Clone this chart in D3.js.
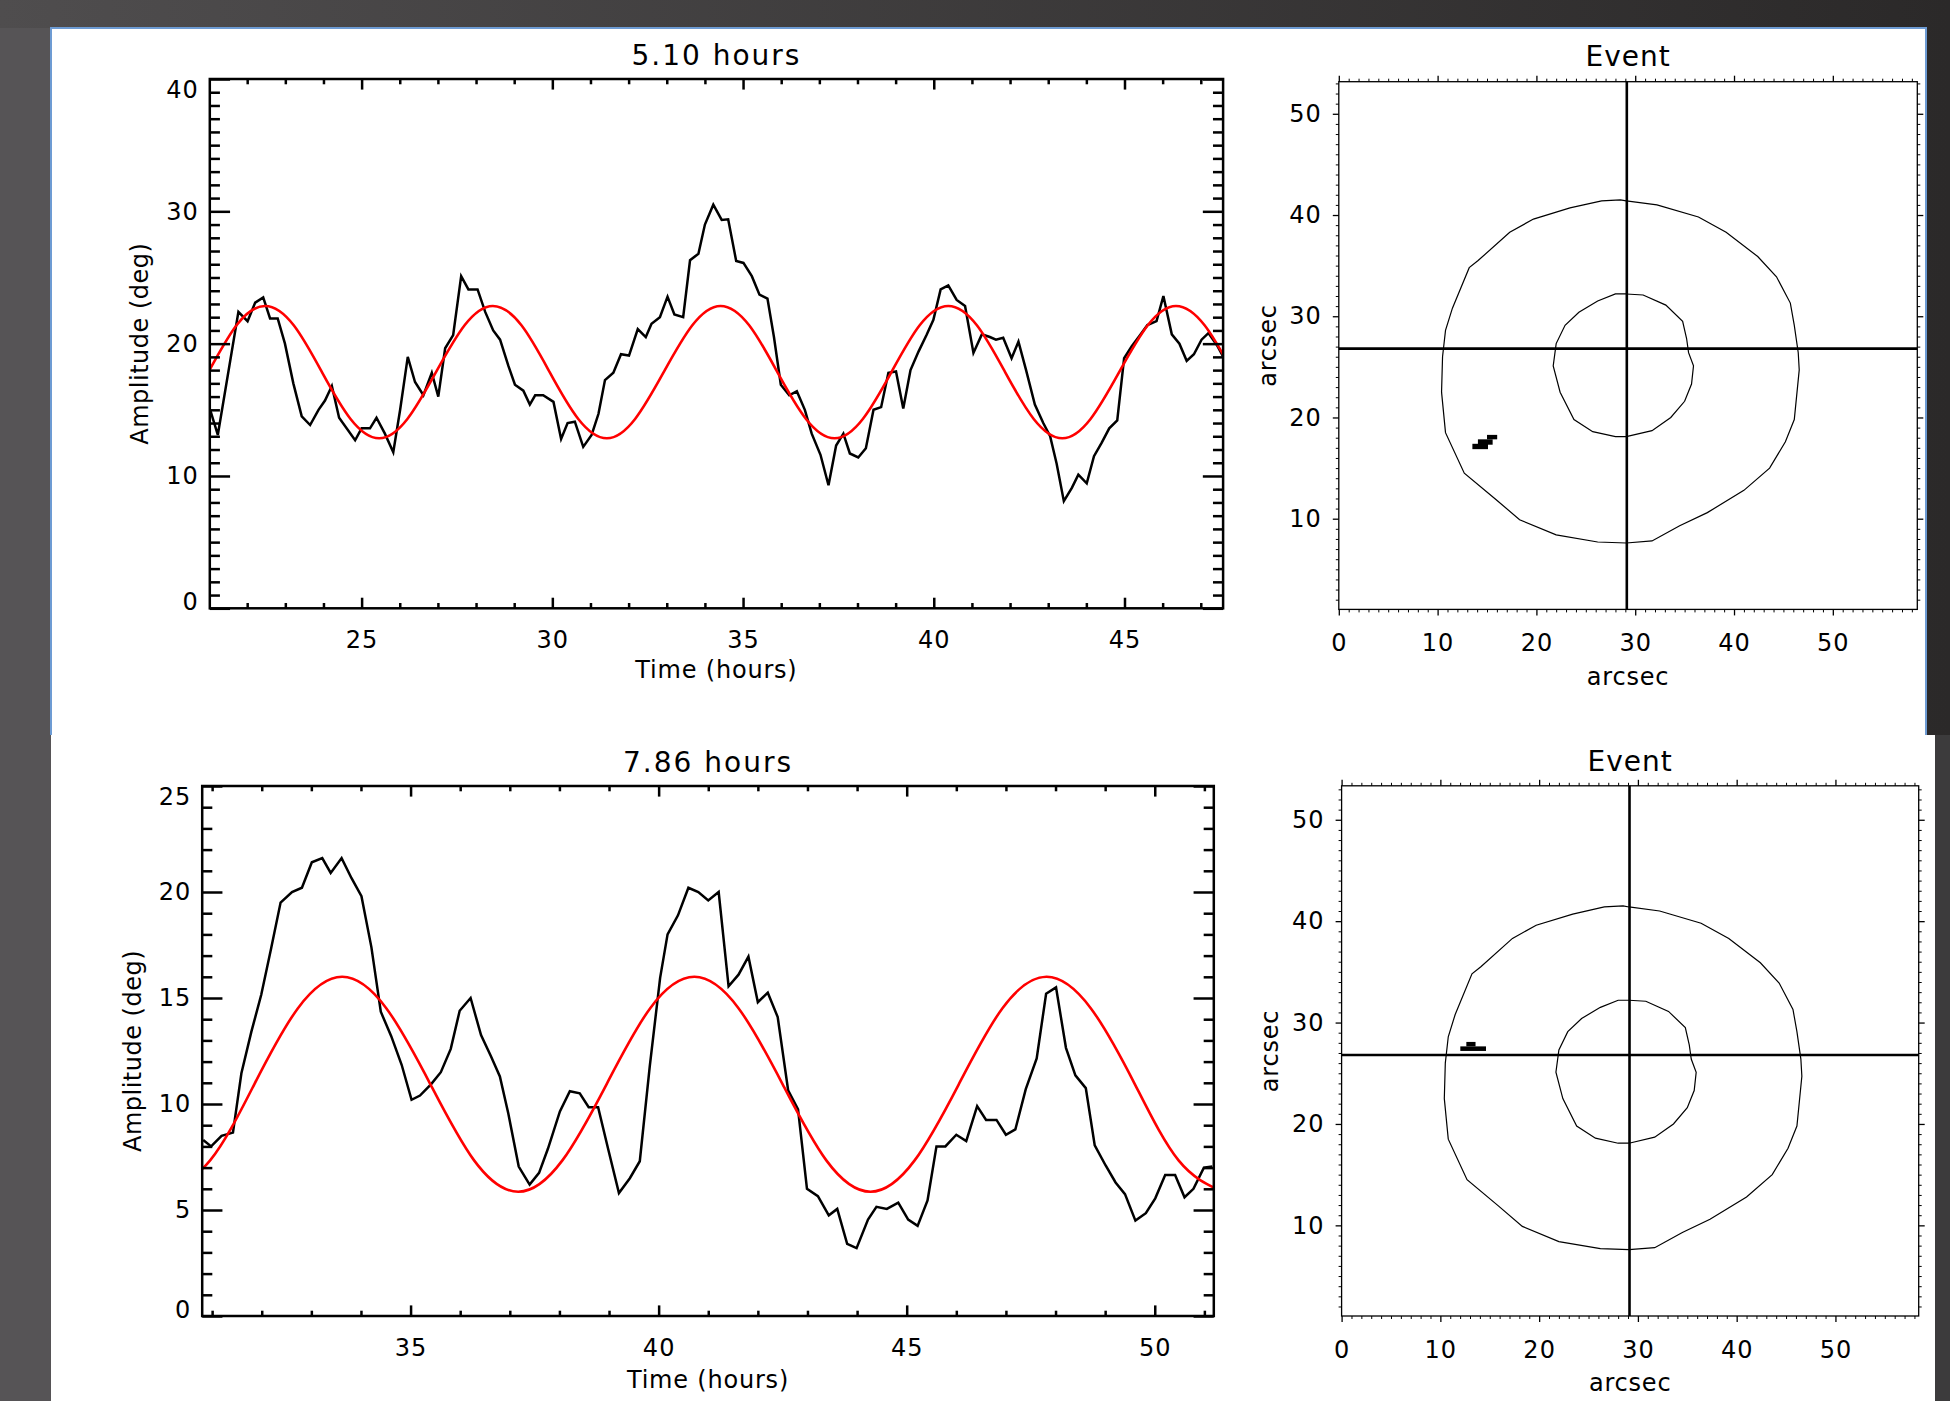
<!DOCTYPE html>
<html><head><meta charset="utf-8">
<script src="https://cdn.jsdelivr.net/npm/d3@7"></script>
<style>
body{margin:0;background:#3a3838;}
svg text{font-family:"DejaVu Sans",sans-serif;fill:#000;}
</style></head>
<body><svg id="c" width="1950" height="1401"></svg>
<script>
// ---------------- DATA ----------------
const topTitle = "5.10 hours";
const botTitle = "7.86 hours";
const tsXLabel = "Time (hours)";
const tsYLabel = "Amplitude (deg)";
const evTitle = "Event";
const evLabel = "arcsec";

// observed amplitude, top panel [time, amplitude]
const topSeries = [[21.03,15.0],[21.23,13.1],[21.77,22.4],[22.01,21.7],[22.21,23.1],[22.42,23.5],[22.60,21.9],[22.80,21.9],[22.99,20.0],[23.21,17.0],[23.43,14.5],[23.65,13.85],[23.87,15.0],[24.04,15.7],[24.22,16.8],[24.41,14.4],[24.83,12.7],[25.00,13.6],[25.22,13.6],[25.39,14.4],[25.61,13.2],[25.83,11.8],[26.01,15.0],[26.21,19.0],[26.40,17.1],[26.62,16.1],[26.84,17.8],[27.01,16.0],[27.19,19.65],[27.40,20.65],[27.61,25.1],[27.80,24.1],[28.04,24.1],[28.24,22.4],[28.45,21.0],[28.63,20.3],[28.85,18.3],[29.02,16.9],[29.24,16.45],[29.41,15.4],[29.55,16.1],[29.76,16.1],[30.03,15.6],[30.23,12.8],[30.40,14.0],[30.59,14.1],[30.81,12.2],[31.03,13.1],[31.21,14.7],[31.38,17.25],[31.60,17.8],[31.80,19.2],[32.01,19.1],[32.24,21.1],[32.45,20.5],[32.60,21.5],[32.82,22.0],[33.02,23.55],[33.20,22.2],[33.43,22.0],[33.61,26.3],[33.83,26.8],[34.00,29.0],[34.22,30.5],[34.44,29.35],[34.61,29.4],[34.82,26.25],[35.01,26.1],[35.23,25.1],[35.43,23.7],[35.64,23.4],[35.81,20.5],[35.99,16.9],[36.21,16.1],[36.41,16.4],[36.62,15.0],[36.80,13.2],[37.03,11.6],[37.24,9.3],[37.44,12.3],[37.63,13.2],[37.80,11.7],[38.02,11.4],[38.22,12.1],[38.42,15.0],[38.62,15.2],[38.81,17.8],[39.01,17.9],[39.20,15.1],[39.39,18.0],[39.60,19.4],[39.81,20.65],[39.99,21.8],[40.18,24.1],[40.38,24.4],[40.60,23.3],[40.82,22.85],[41.04,19.3],[41.26,20.7],[41.47,20.5],[41.63,20.3],[41.82,20.45],[42.04,18.9],[42.22,20.15],[42.42,18.0],[42.65,15.4],[42.87,14.0],[43.05,13.0],[43.22,10.95],[43.41,8.1],[43.62,9.1],[43.79,10.1],[44.01,9.45],[44.20,11.5],[44.40,12.5],[44.60,13.6],[44.81,14.2],[44.99,18.9],[45.19,19.8],[45.41,20.65],[45.60,21.4],[45.84,21.7],[46.02,23.6],[46.24,20.7],[46.44,20.0],[46.63,18.7],[46.82,19.2],[47.02,20.3],[47.20,20.8],[47.42,19.9],[47.59,19.0]];

// fitted curve, top panel
const topFit = [[20.24,14.31],[20.98,17.85],[21.72,21.39],[22.47,22.85],[23.22,21.39],[23.96,17.85],[24.71,14.31],[25.46,12.85],[26.20,14.31],[26.95,17.85],[27.70,21.39],[28.44,22.85],[29.19,21.39],[29.93,17.85],[30.68,14.31],[31.43,12.85],[32.17,14.31],[32.92,17.85],[33.67,21.39],[34.41,22.85],[35.16,21.39],[35.90,17.85],[36.65,14.31],[37.40,12.85],[38.14,14.31],[38.89,17.85],[39.63,21.39],[40.38,22.85],[41.13,21.39],[41.87,17.85],[42.62,14.31],[43.37,12.85],[44.11,14.31],[44.86,17.85],[45.61,21.39],[46.35,22.85],[47.10,21.39],[47.84,17.85]];

// observed amplitude, bottom panel
const botSeries = [[30.82,8.3],[30.98,8.0],[31.19,8.5],[31.42,8.65],[31.59,11.45],[31.79,13.4],[31.99,15.15],[32.19,17.35],[32.38,19.5],[32.61,20.0],[32.81,20.2],[33.01,21.4],[33.22,21.6],[33.39,20.9],[33.61,21.6],[33.81,20.65],[34.01,19.8],[34.21,17.4],[34.40,14.35],[34.61,13.2],[34.82,11.85],[35.02,10.2],[35.19,10.4],[35.42,10.95],[35.61,11.5],[35.81,12.6],[35.99,14.4],[36.21,15.0],[36.42,13.25],[36.62,12.25],[36.80,11.3],[36.97,9.55],[37.18,7.05],[37.40,6.2],[37.59,6.75],[37.77,7.9],[38.01,9.65],[38.21,10.6],[38.41,10.5],[38.59,9.85],[38.78,9.85],[38.98,7.9],[39.20,5.8],[39.42,6.5],[39.62,7.3],[39.82,11.75],[40.03,15.95],[40.18,18.0],[40.39,18.9],[40.60,20.2],[40.80,20.0],[41.00,19.6],[41.21,20.0],[41.41,15.55],[41.61,16.1],[41.81,16.95],[42.00,14.8],[42.20,15.25],[42.40,14.1],[42.61,10.65],[42.81,9.75],[42.99,6.0],[43.21,5.65],[43.43,4.75],[43.60,5.05],[43.80,3.4],[43.99,3.2],[44.22,4.55],[44.39,5.15],[44.60,5.05],[44.83,5.35],[45.03,4.55],[45.22,4.25],[45.42,5.45],[45.60,8.0],[45.78,8.0],[46.00,8.55],[46.20,8.25],[46.42,9.9],[46.60,9.25],[46.81,9.25],[47.00,8.55],[47.19,8.8],[47.40,10.7],[47.62,12.15],[47.81,15.2],[48.01,15.5],[48.21,12.65],[48.40,11.35],[48.61,10.75],[48.79,8.05],[49.01,7.1],[49.21,6.3],[49.40,5.75],[49.61,4.5],[49.82,4.85],[50.01,5.55],[50.21,6.65],[50.41,6.65],[50.60,5.6],[50.78,6.0],[50.99,7.0],[51.16,7.05]];

// fitted curve, bottom panel
const botFit = [[30.07,5.86],[30.96,7.34],[31.85,10.93],[32.73,14.52],[33.62,16.0],[34.51,14.52],[35.40,10.93],[36.28,7.34],[37.17,5.86],[38.06,7.34],[38.95,10.93],[39.83,14.52],[40.72,16.0],[41.61,14.52],[42.50,10.93],[43.38,7.34],[44.27,5.86],[45.16,7.34],[46.05,10.93],[46.93,14.52],[47.82,16.0],[48.71,14.52],[49.60,10.93],[50.48,7.34],[51.37,5.86]];

// contours of the event map (arcsec)
const outerContour = [[29.1,41.4],[32.2,41.0],[36.4,39.8],[39.2,38.3],[42.4,35.9],[44.3,33.9],[45.7,31.3],[46.1,29.1],[46.5,26.4],[46.6,24.7],[46.1,19.8],[45.2,17.6],[43.6,15.0],[41.0,12.8],[37.3,10.6],[34.5,9.3],[31.7,7.8],[29.1,7.6],[26.2,7.7],[22.0,8.4],[18.3,9.9],[15.9,11.9],[12.7,14.5],[10.8,18.5],[10.4,22.5],[10.5,26.0],[10.8,28.6],[11.5,30.8],[13.2,34.8],[14.1,35.5],[17.3,38.3],[19.7,39.6],[23.4,40.7],[26.6,41.4],[28.5,41.5]];
const innerContour = [[29.1,32.2],[30.8,32.1],[33.1,31.1],[34.8,29.5],[35.2,27.8],[35.4,26.4],[35.9,25.1],[35.7,23.3],[35.0,21.6],[33.6,20.0],[31.7,18.7],[29.1,18.1],[28.0,18.1],[25.7,18.6],[23.8,19.8],[22.4,22.5],[21.7,25.1],[22.0,27.3],[22.9,29.1],[24.3,30.4],[26.2,31.5],[28.0,32.2]];
const crossHair = [29.15, 26.8];
// event pixels [x0, x1, y0, y1]
const eventTopCells = [[13.52,15.1,16.87,17.4],[14.08,15.57,17.31,17.84],[15.0,16.03,17.84,18.28]];
const eventBotCells = [[12.63,13.56,27.65,28.09],[12.02,14.62,27.2,27.65]];

// ticks
const topXTicks = [25,30,35,40,45];
const topXMinor = [22,23,24,26,27,28,29,31,32,33,34,36,37,38,39,41,42,43,44,46,47];
const topYTicks = [0,10,20,30,40];
const topYMinor = [1,2,3,4,5,6,7,8,9,11,12,13,14,15,16,17,18,19,21,22,23,24,25,26,27,28,29,31,32,33,34,35,36,37,38,39];
const botXTicks = [35,40,45,50];
const botXMinor = [31,32,33,34,36,37,38,39,41,42,43,44,46,47,48,49,51];
const botYTicks = [0,5,10,15,20,25];
const botYMinor = [1,2,3,4,6,7,8,9,11,12,13,14,16,17,18,19,21,22,23,24];
const evTicks = [0,10,20,30,40,50];
const evXMinor = [1,2,3,4,5,6,7,8,9,11,12,13,14,15,16,17,18,19,21,22,23,24,25,26,27,28,29,31,32,33,34,35,36,37,38,39,41,42,43,44,45,46,47,48,49,51,52,53,54,55,56,57,58];
const evYTicks = [10,20,30,40,50];
const evYMinor = [2,3,4,5,6,7,8,9,11,12,13,14,15,16,17,18,19,21,22,23,24,25,26,27,28,29,31,32,33,34,35,36,37,38,39,41,42,43,44,45,46,47,48,49,51,52,53];

// ---------------- DRAW ----------------
const W = 1950, H = 1401;
const svg = d3.select("#c");
const defs = svg.append("defs");
const grad = defs.append("linearGradient").attr("id","bg").attr("x1",0).attr("x2",1).attr("y1",0).attr("y2",0);
grad.append("stop").attr("offset","0%").attr("stop-color","#4f4d4e");
grad.append("stop").attr("offset","100%").attr("stop-color","#2b2929");
svg.append("rect").attr("width",W).attr("height",H).attr("fill","url(#bg)");
svg.append("rect").attr("x",0).attr("y",28).attr("width",51).attr("height",H-28).attr("fill","#565456");
svg.append("rect").attr("x",1926).attr("y",735).attr("width",W-1926).attr("height",H-735).attr("fill","#3c3b3c");
svg.append("rect").attr("x",51).attr("y",735).attr("width",1935-51).attr("height",H-735).attr("fill","#fff");
svg.append("rect").attr("x",51).attr("y",28).attr("width",1926-51).attr("height",735-28).attr("fill","#fff");
svg.append("path").attr("d","M51,735V28H1926V735").attr("fill","none").attr("stroke","#6d9bd3").attr("stroke-width",2);

let clipN = 0;
function styleAxis(g, sw){
  g.select(".domain").remove();
  g.selectAll(".tick line").attr("stroke","#000").attr("stroke-width",sw);
  g.selectAll(".tick text").attr("font-size",24).attr("fill","#000").attr("font-family","DejaVu Sans").attr("letter-spacing","1px");
  return g;
}

function drawTS(c){
  const x = d3.scaleLinear().domain(c.xDom).range([c.x0,c.x1]);
  const y = d3.scaleLinear().domain(c.yDom).range([c.y1,c.y0]);
  const w = c.x1-c.x0, h = c.y1-c.y0;
  const tY = 0.02*w, tX = 0.02*h, sw = 2.5;
  const id = "clip"+(clipN++);
  defs.append("clipPath").attr("id",id).append("rect").attr("x",c.x0).attr("y",c.y0).attr("width",w).attr("height",h);
  const g = svg.append("g");
  const line = d3.line().x(d=>x(d[0])).y(d=>y(d[1]));
  g.append("path").datum(c.series).attr("d",line).attr("fill","none").attr("stroke","#000").attr("stroke-width",2.5).attr("stroke-linejoin","miter").attr("clip-path",`url(#${id})`);
  g.append("path").datum(c.fit).attr("d",line.curve(d3.curveNatural)).attr("fill","none").attr("stroke","#ff0000").attr("stroke-width",2.6).attr("clip-path",`url(#${id})`);
  const fmt = d3.format("d");
  // major
  styleAxis(g.append("g").attr("transform",`translate(0,${c.y1})`).call(d3.axisBottom(x).tickValues(c.xTicks).tickSize(-tX).tickPadding(23).tickFormat(fmt)), sw);
  styleAxis(g.append("g").attr("transform",`translate(0,${c.y0})`).call(d3.axisTop(x).tickValues(c.xTicks).tickSize(-tX).tickFormat("")), sw);
  const ya = styleAxis(g.append("g").attr("transform",`translate(${c.x0},0)`).call(d3.axisLeft(y).tickValues(c.yTicks).tickSize(-tY).tickPadding(11).tickFormat(fmt)), sw);
  // keep the extreme labels inside the axis span
  ya.selectAll(".tick text").attr("y", d => d === c.yDom[1] ? 11 : (d === c.yDom[0] ? -6 : 0));
  styleAxis(g.append("g").attr("transform",`translate(${c.x1},0)`).call(d3.axisRight(y).tickValues(c.yTicks).tickSize(-tY).tickFormat("")), sw);
  // minor
  styleAxis(g.append("g").attr("transform",`translate(0,${c.y1})`).call(d3.axisBottom(x).tickValues(c.xMinor).tickSize(-tX/2).tickFormat("")), sw);
  styleAxis(g.append("g").attr("transform",`translate(0,${c.y0})`).call(d3.axisTop(x).tickValues(c.xMinor).tickSize(-tX/2).tickFormat("")), sw);
  styleAxis(g.append("g").attr("transform",`translate(${c.x0},0)`).call(d3.axisLeft(y).tickValues(c.yMinor).tickSize(-tY/2).tickFormat("")), sw);
  styleAxis(g.append("g").attr("transform",`translate(${c.x1},0)`).call(d3.axisRight(y).tickValues(c.yMinor).tickSize(-tY/2).tickFormat("")), sw);
  g.append("rect").attr("x",c.x0).attr("y",c.y0).attr("width",w).attr("height",h).attr("fill","none").attr("stroke","#000").attr("stroke-width",sw);
  g.append("text").attr("x",(c.x0+c.x1)/2).attr("y",c.titleY).attr("text-anchor","middle").attr("font-size",28).attr("letter-spacing","2px").text(c.title);
  g.append("text").attr("x",(c.x0+c.x1)/2).attr("y",c.xTitleY).attr("text-anchor","middle").attr("font-size",24).attr("letter-spacing","0.8px").text(tsXLabel);
  g.append("text").attr("transform",`translate(${c.yTitleX},${(c.y0+c.y1)/2}) rotate(-90)`).attr("text-anchor","middle").attr("font-size",24).attr("letter-spacing","0.5px").text(tsYLabel);
}

function drawEvent(c){
  const x = d3.scaleLinear().domain(c.xDom).range([c.x0,c.x1]);
  const y = d3.scaleLinear().domain(c.yDom).range([c.y1,c.y0]);
  const w = c.x1-c.x0, h = c.y1-c.y0, sw = 1.3;
  const g = svg.append("g");
  const line = d3.line().x(d=>x(d[0])).y(d=>y(d[1])).curve(d3.curveLinearClosed);
  [outerContour, innerContour].forEach(ct=>{
    g.append("path").datum(ct).attr("d",line).attr("fill","none").attr("stroke","#000").attr("stroke-width",1.2);
  });
  g.selectAll("rect.cell").data(c.cells).join("rect").attr("class","cell")
    .attr("x",d=>x(d[0])).attr("width",d=>x(d[1])-x(d[0]))
    .attr("y",d=>y(d[3])).attr("height",d=>y(d[2])-y(d[3])).attr("fill","#000");
  g.append("line").attr("x1",x(crossHair[0])).attr("x2",x(crossHair[0])).attr("y1",c.y0).attr("y2",c.y1).attr("stroke","#000").attr("stroke-width",2.6);
  g.append("line").attr("x1",c.x0).attr("x2",c.x1).attr("y1",y(crossHair[1])).attr("y2",y(crossHair[1])).attr("stroke","#000").attr("stroke-width",2.6);
  const fmt = d3.format("d");
  styleAxis(g.append("g").attr("transform",`translate(0,${c.y1})`).call(d3.axisBottom(x).tickValues(evTicks).tickSize(6).tickPadding(19).tickFormat(fmt)), sw);
  styleAxis(g.append("g").attr("transform",`translate(0,${c.y0})`).call(d3.axisTop(x).tickValues(evTicks).tickSize(6).tickFormat("")), sw);
  styleAxis(g.append("g").attr("transform",`translate(${c.x0},0)`).call(d3.axisLeft(y).tickValues(evYTicks).tickSize(6).tickPadding(11).tickFormat(fmt)), sw);
  styleAxis(g.append("g").attr("transform",`translate(${c.x1},0)`).call(d3.axisRight(y).tickValues(evYTicks).tickSize(6).tickFormat("")), sw);
  styleAxis(g.append("g").attr("transform",`translate(0,${c.y1})`).call(d3.axisBottom(x).tickValues(evXMinor).tickSize(3).tickFormat("")), 1);
  styleAxis(g.append("g").attr("transform",`translate(0,${c.y0})`).call(d3.axisTop(x).tickValues(evXMinor).tickSize(3).tickFormat("")), 1);
  styleAxis(g.append("g").attr("transform",`translate(${c.x0},0)`).call(d3.axisLeft(y).tickValues(evYMinor).tickSize(3).tickFormat("")), 1);
  styleAxis(g.append("g").attr("transform",`translate(${c.x1},0)`).call(d3.axisRight(y).tickValues(evYMinor).tickSize(3).tickFormat("")), 1);
  g.append("rect").attr("x",c.x0).attr("y",c.y0).attr("width",w).attr("height",h).attr("fill","none").attr("stroke","#000").attr("stroke-width",sw);
  g.append("text").attr("x",(c.x0+c.x1)/2).attr("y",c.titleY).attr("text-anchor","middle").attr("font-size",28).attr("letter-spacing","1px").text(evTitle);
  g.append("text").attr("x",(c.x0+c.x1)/2).attr("y",c.xTitleY).attr("text-anchor","middle").attr("font-size",24).attr("letter-spacing","0.8px").text(evLabel);
  g.append("text").attr("transform",`translate(${c.yTitleX},${(c.y0+c.y1)/2}) rotate(-90)`).attr("text-anchor","middle").attr("font-size",24).attr("letter-spacing","0.8px").text(evLabel);
}

drawTS({x0:209.8,x1:1223.1,y0:79,y1:608.3,xDom:[21.02,47.585],yDom:[0,40],series:topSeries,fit:topFit,
  xTicks:topXTicks,xMinor:topXMinor,yTicks:topYTicks,yMinor:topYMinor,title:topTitle,titleY:65,xTitleY:678,yTitleX:148});
drawTS({x0:202.2,x1:1213.8,y0:786,y1:1316,xDom:[30.8,51.19],yDom:[0,25],series:botSeries,fit:botFit,
  xTicks:botXTicks,xMinor:botXMinor,yTicks:botYTicks,yMinor:botYMinor,title:botTitle,titleY:772,xTitleY:1388,yTitleX:141});
drawEvent({x0:1338.8,x1:1917.3,y0:81.7,y1:609.4,xDom:[0,58.55],yDom:[1.04,53.17],cells:eventTopCells,titleY:66,xTitleY:685,yTitleX:1276});
drawEvent({x0:1341.6,x1:1918.7,y0:785.8,y1:1316,xDom:[0,58.43],yDom:[1.06,53.35],cells:eventBotCells,titleY:771,xTitleY:1391,yTitleX:1278});
</script></body></html>
